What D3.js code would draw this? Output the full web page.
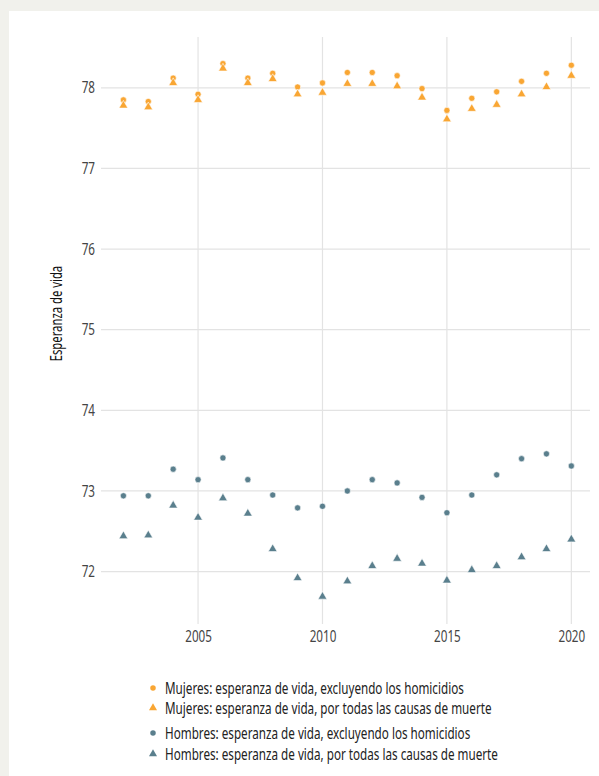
<!DOCTYPE html>
<html>
<head>
<meta charset="utf-8">
<script src="https://cdn.jsdelivr.net/npm/d3@7"></script>
<style>
  body { margin: 0; background: #f1f1ec; }
  svg { display: block; }
  text { font-family: "Noto Sans", "Open Sans", sans-serif; }
  .tick text { font-size: 16px; fill: #444; }
  .legend text { font-size: 16px; fill: #222; }
</style>
</head>
<body>
<script>
const years = d3.range(2002, 2021)
const mujeresExcl = [77.85, 77.83, 78.12, 77.92, 78.30, 78.12, 78.18, 78.01, 78.06, 78.19, 78.19, 78.15, 77.99, 77.72, 77.87, 77.95, 78.08, 78.18, 78.28]
const mujeresTodas = [77.78, 77.76, 78.06, 77.85, 78.24, 78.06, 78.11, 77.92, 77.94, 78.05, 78.05, 78.02, 77.88, 77.61, 77.74, 77.79, 77.92, 78.01, 78.15]
const hombresExcl = [72.94, 72.94, 73.27, 73.14, 73.41, 73.14, 72.95, 72.79, 72.81, 73.00, 73.14, 73.10, 72.92, 72.73, 72.95, 73.20, 73.40, 73.46, 73.31]
const hombresTodas = [72.44, 72.45, 72.82, 72.67, 72.91, 72.72, 72.28, 71.92, 71.69, 71.88, 72.07, 72.16, 72.10, 71.89, 72.02, 72.07, 72.18, 72.28, 72.40]
const xTicks = [2005, 2010, 2015, 2020]
const yTicks = [72, 73, 74, 75, 76, 77, 78]

const orange = "#f9a633"
const teal = "#5a7f8d"

const series = [
    {label: "Mujeres: esperanza de vida, excluyendo los homicidios", values: mujeresExcl, color: orange, shape: "circle"},
    {label: "Mujeres: esperanza de vida, por todas las causas de muerte", values: mujeresTodas, color: orange, shape: "triangle"},
    {label: "Hombres: esperanza de vida, excluyendo los homicidios", values: hombresExcl, color: teal, shape: "circle"},
    {label: "Hombres: esperanza de vida, por todas las causas de muerte", values: hombresTodas, color: teal, shape: "triangle"}
]

const width = 599
const height = 776
const margin = {left: 101, right: 590, top: 37, bottom: 624}
// the original uses a condensed face, so squeeze the text horizontally
const squeeze = 0.73

const x = d3.scaleLinear().domain([2001.1, 2020.75]).range([margin.left, margin.right])
const y = d3.scaleLinear().domain([71.35, 78.63]).range([margin.bottom, margin.top])

const svg = d3.select("body").append("svg")
    .attr("width", width)
    .attr("height", height)

svg.append("rect")
    .attr("x", 9).attr("y", 11)
    .attr("width", width - 9).attr("height", height - 11)
    .attr("fill", "white")

// grid
svg.append("g").selectAll("line")
    .data(yTicks).enter().append("line")
    .attr("x1", margin.left).attr("x2", margin.right)
    .attr("y1", d => y(d)).attr("y2", d => y(d))
    .attr("stroke", "#e3e3e3").attr("stroke-width", 1.2)

svg.append("g").selectAll("line")
    .data(xTicks).enter().append("line")
    .attr("x1", d => x(d)).attr("x2", d => x(d))
    .attr("y1", margin.top).attr("y2", margin.bottom)
    .attr("stroke", "#e3e3e3").attr("stroke-width", 1.2)

const yAxis = svg.append("g")
    .attr("transform", `translate(${margin.left - 6},0)`)
    .call(d3.axisLeft(y).tickValues(yTicks).tickSize(0).tickPadding(0))
yAxis.select(".domain").remove()
yAxis.selectAll("text").attr("transform", `scale(${squeeze},1)`)

const xAxis = svg.append("g")
    .attr("transform", `translate(0,${margin.bottom + 2})`)
    .call(d3.axisBottom(x).tickValues(xTicks).tickFormat(d3.format("d")).tickSize(0).tickPadding(5))
xAxis.select(".domain").remove()
xAxis.selectAll("text").attr("transform", `scale(${squeeze},1)`)

svg.append("text")
    .attr("transform", `translate(62,${y(75.2)}) rotate(-90) scale(${squeeze},1)`)
    .attr("text-anchor", "middle")
    .style("font-size", "15.5px")
    .attr("fill", "#111")
    .text("Esperanza de vida")

const circleSym = d3.symbol().type(d3.symbolCircle).size(30)
const triSym = d3.symbol().type(d3.symbolTriangle).size(34)

series.forEach(s => {
    svg.append("g").selectAll("path")
        .data(years.map((yr, i) => [yr, s.values[i]]))
        .enter().append("path")
        .attr("d", s.shape == "circle" ? circleSym : triSym)
        .attr("transform", d => `translate(${x(d[0])},${y(d[1])})`)
        .attr("fill", s.color)
        .attr("stroke", "white")
        .attr("stroke-width", 0.6)
})

const legendY = [688, 708, 733, 754]
const legend = svg.append("g").attr("class", "legend")
    .selectAll("g").data(series).enter().append("g")
    .attr("transform", (d, i) => `translate(153,${legendY[i]})`)
legend.append("path")
    .attr("d", d => d.shape == "circle" ? d3.symbol().type(d3.symbolCircle).size(24)() : d3.symbol().type(d3.symbolTriangle).size(28)())
    .attr("fill", d => d.color)
legend.append("text")
    .attr("transform", `translate(12,0) scale(${squeeze},1)`)
    .attr("dy", "0.35em")
    .text(d => d.label)
</script>
</body>
</html>
